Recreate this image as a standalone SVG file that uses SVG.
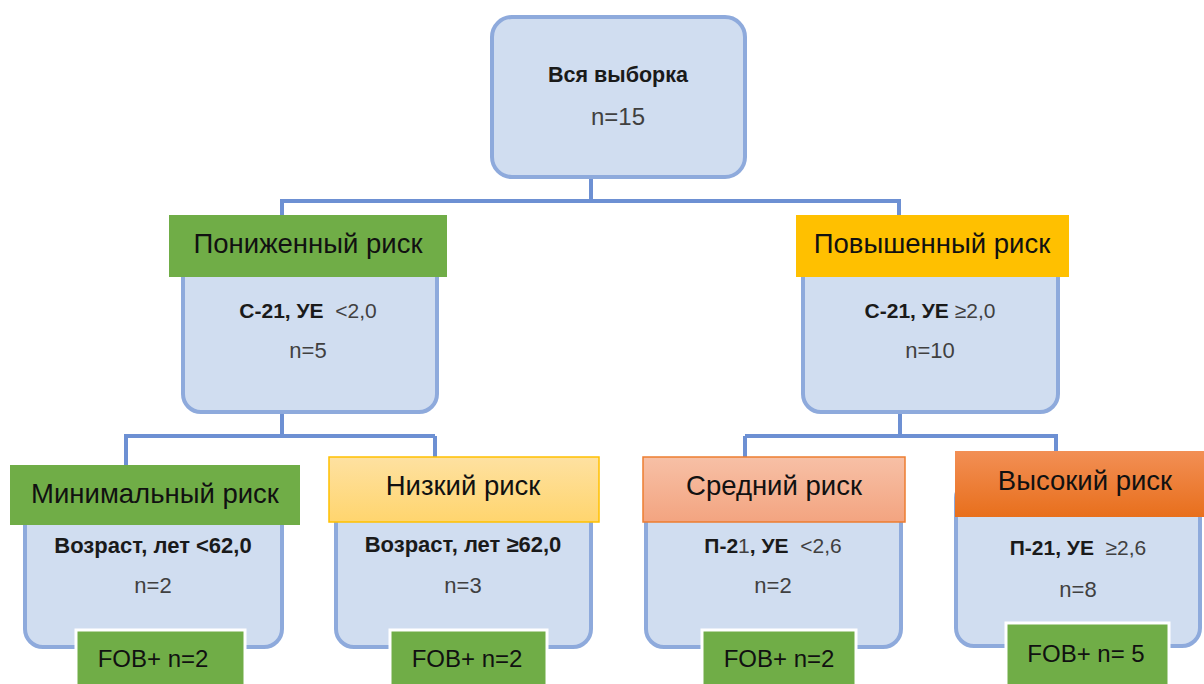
<svg xmlns="http://www.w3.org/2000/svg" width="1204" height="684" viewBox="0 0 1204 684">
<defs>
<linearGradient id="gLow" x1="0" y1="0" x2="0" y2="1"><stop offset="0" stop-color="#fee1a1"/><stop offset="1" stop-color="#ffd56e"/></linearGradient>
<linearGradient id="gMid" x1="0" y1="0" x2="0" y2="1"><stop offset="0" stop-color="#f7c0a6"/><stop offset="1" stop-color="#f3a480"/></linearGradient>
<linearGradient id="gHigh" x1="0" y1="0" x2="0" y2="1"><stop offset="0" stop-color="#f28f55"/><stop offset="1" stop-color="#e86f1c"/></linearGradient>
<style>
.box{fill:#d0ddf0;stroke:#8eaadc;stroke-width:4}
.con{fill:none;stroke:#6d90d3;stroke-width:4}
.green{fill:#70ad47}
.fob{fill:#70ad47;stroke:#ffffff;stroke-width:3}
text{font-family:"Liberation Sans",Arial,sans-serif;text-anchor:middle}
.lab{font-size:27.5px;fill:#111}
.b{font-weight:bold;fill:#1a1a1a}
.n{fill:#404040}
.c{font-size:21px}
.nn{font-size:22px;fill:#404040}
.fobt{font-size:24px;fill:#111}
</style>
</defs>
<rect width="1204" height="684" fill="#ffffff"/>
<g id="connectors">
<path class="con" d="M591 178V201M280 201H901M282 201V216M899 201V216"/>
<path class="con" d="M282 413V436M126 436H435M126 436V466M435 436V458M124 436H128"/>
<path class="con" d="M900 413V436M745 436H1058M745 436V458M1056 436V452"/>
</g>
<g id="root">
<rect class="box" x="492" y="17" width="253" height="160" rx="20"/>
<text class="b" x="618" y="82" font-size="21.5">Вся выборка</text>
<text class="n" x="618" y="125" font-size="24">n=15</text>
</g>
<g id="low-risk">
<rect class="box" x="183" y="235" width="254" height="177" rx="18"/>
<rect class="green" x="169" y="215" width="278" height="62"/>
<text class="lab" x="308" y="253">Пониженный риск</text>
<text class="c" x="308" y="318"><tspan class="b">С-21, УЕ</tspan><tspan class="n" xml:space="preserve">  &lt;2,0</tspan></text>
<text class="nn" x="308" y="358">n=5</text>
</g>
<g id="high-risk">
<rect class="box" x="803" y="235" width="255" height="177" rx="18"/>
<rect fill="#ffc000" x="796" y="215" width="273" height="62"/>
<text class="lab" x="932" y="253">Повышенный риск</text>
<text class="c" x="930" y="318"><tspan class="b">С-21, УЕ</tspan><tspan class="n"> ≥2,0</tspan></text>
<text class="nn" x="930" y="358">n=10</text>
</g>
<g id="minimal-risk">
<rect class="box" x="25" y="490" width="257" height="157" rx="18"/>
<rect class="green" x="10" y="465" width="290" height="60"/>
<text class="lab" x="155" y="503">Минимальный риск</text>
<text class="b" x="153" y="553" font-size="22">Возраст, лет &lt;62,0</text>
<text class="nn" x="153" y="593">n=2</text>
<rect class="fob" x="76" y="630" width="169" height="60"/>
<text class="fobt" x="153" y="667">FOB+ n=2</text>
</g>
<g id="lowest-risk">
<rect class="box" x="336" y="490" width="255" height="157" rx="18"/>
<rect fill="url(#gLow)" stroke="#ffc000" stroke-width="1.5" x="329" y="457" width="270" height="65"/>
<text class="lab" x="463" y="495">Низкий риск</text>
<text class="b" x="463" y="552" font-size="22">Возраст, лет ≥62,0</text>
<text class="nn" x="463" y="593">n=3</text>
<rect class="fob" x="390" y="630" width="157" height="60"/>
<text class="fobt" x="467" y="667">FOB+ n=2</text>
</g>
<g id="medium-risk">
<rect class="box" x="646" y="490" width="255" height="157" rx="18"/>
<rect fill="url(#gMid)" stroke="#ed7d31" stroke-width="1.5" x="643" y="457" width="262" height="65"/>
<text class="lab" x="774" y="495">Средний риск</text>
<text class="c" x="773" y="553"><tspan class="b">П-2</tspan><tspan class="n">1</tspan><tspan class="b">, УЕ</tspan><tspan class="n" xml:space="preserve">  &lt;2,6</tspan></text>
<text class="nn" x="773" y="593">n=2</text>
<rect class="fob" x="702" y="630" width="154" height="60"/>
<text class="fobt" x="779" y="667">FOB+ n=2</text>
</g>
<g id="very-high-risk">
<rect class="box" x="956" y="480" width="244" height="166" rx="18"/>
<rect fill="url(#gHigh)" x="955" y="451" width="249" height="66"/>
<text class="lab" x="1085" y="490">Высокий риск</text>
<text class="c" x="1078" y="555"><tspan class="b">П-21, УЕ</tspan><tspan class="n" xml:space="preserve">  ≥2,6</tspan></text>
<text class="nn" x="1078" y="597">n=8</text>
<rect class="fob" x="1006" y="623" width="163" height="64"/>
<text class="fobt" x="1086" y="662">FOB+ n= 5</text>
</g>
</svg>
